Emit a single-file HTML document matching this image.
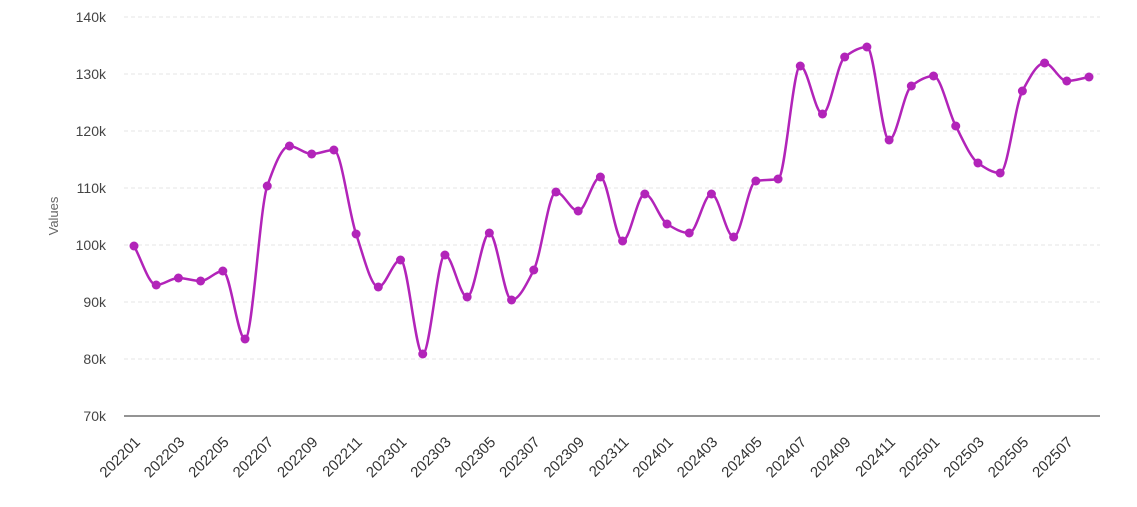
<!DOCTYPE html>
<html><head><meta charset="utf-8"><style>
body{margin:0;background:#fff;}
svg{display:block;font-family:"Liberation Sans","DejaVu Sans",sans-serif;}
</style></head><body>
<svg id="s" width="1137" height="507" xmlns="http://www.w3.org/2000/svg"></svg>
<script>
const s=document.getElementById('s');
const ys=[246,285,278,281,271,339,186,146,154,150,234,287,260,354,255,297,233,300,270,192,211,177,241,194,224,233,194,237,181,179,66,114,57,47,140,86,76,126,163,173,91,63,81,77];
const x0=134,dx=(1089-134)/43;
let h='';
for(let i=0;i<8;i++){const y=17+i*57;const v=140-i*10;
 if(i<7) h+=`<line x1="124" x2="1100" y1="${y}" y2="${y}" stroke="#e6e6e6" stroke-dasharray="4,3"/>`;
 h+=`<text x="106" y="${y+5}" text-anchor="end" font-size="14" fill="#444">${v}k</text>`;}
h+=`<line x1="124" x2="1100" y1="416" y2="416" stroke="#555" stroke-width="1.3"/>`;
h+=`<text transform="translate(58,216) rotate(-90)" text-anchor="middle" font-size="13" fill="#666">Values</text>`;
for(let i=0;i<44;i+=2){const yr=2022+Math.floor(i/12),m=i%12+1;const x=x0+i*dx+7;
 h+=`<text transform="translate(${x},443) rotate(-45)" text-anchor="end" font-size="15" fill="#333">${yr}${String(m).padStart(2,'0')}</text>`;}
const n=ys.length,xs=ys.map((_,i)=>x0+i*dx);const d=[],m=[];
for(let i=0;i<n-1;i++)d.push((ys[i+1]-ys[i])/dx);
for(let i=0;i<n;i++){if(i==0)m.push(d[0]);else if(i==n-1)m.push(d[n-2]);else{if(d[i-1]*d[i]<=0)m.push(0);else{m.push(2/(1/d[i-1]+1/d[i]));}}}
let p=`M${xs[0]},${ys[0]}`;
for(let i=0;i<n-1;i++){p+=` C${xs[i]+dx/3},${ys[i]+m[i]*dx/3} ${xs[i+1]-dx/3},${ys[i+1]-m[i+1]*dx/3} ${xs[i+1]},${ys[i+1]}`;}
h+=`<path d="${p}" fill="none" stroke="#b224b9" stroke-width="2.5"/>`;
for(let i=0;i<n;i++)h+=`<circle cx="${xs[i]}" cy="${ys[i]}" r="4.5" fill="#b224b9"/>`;
s.innerHTML=h;
</script>
</body></html>
